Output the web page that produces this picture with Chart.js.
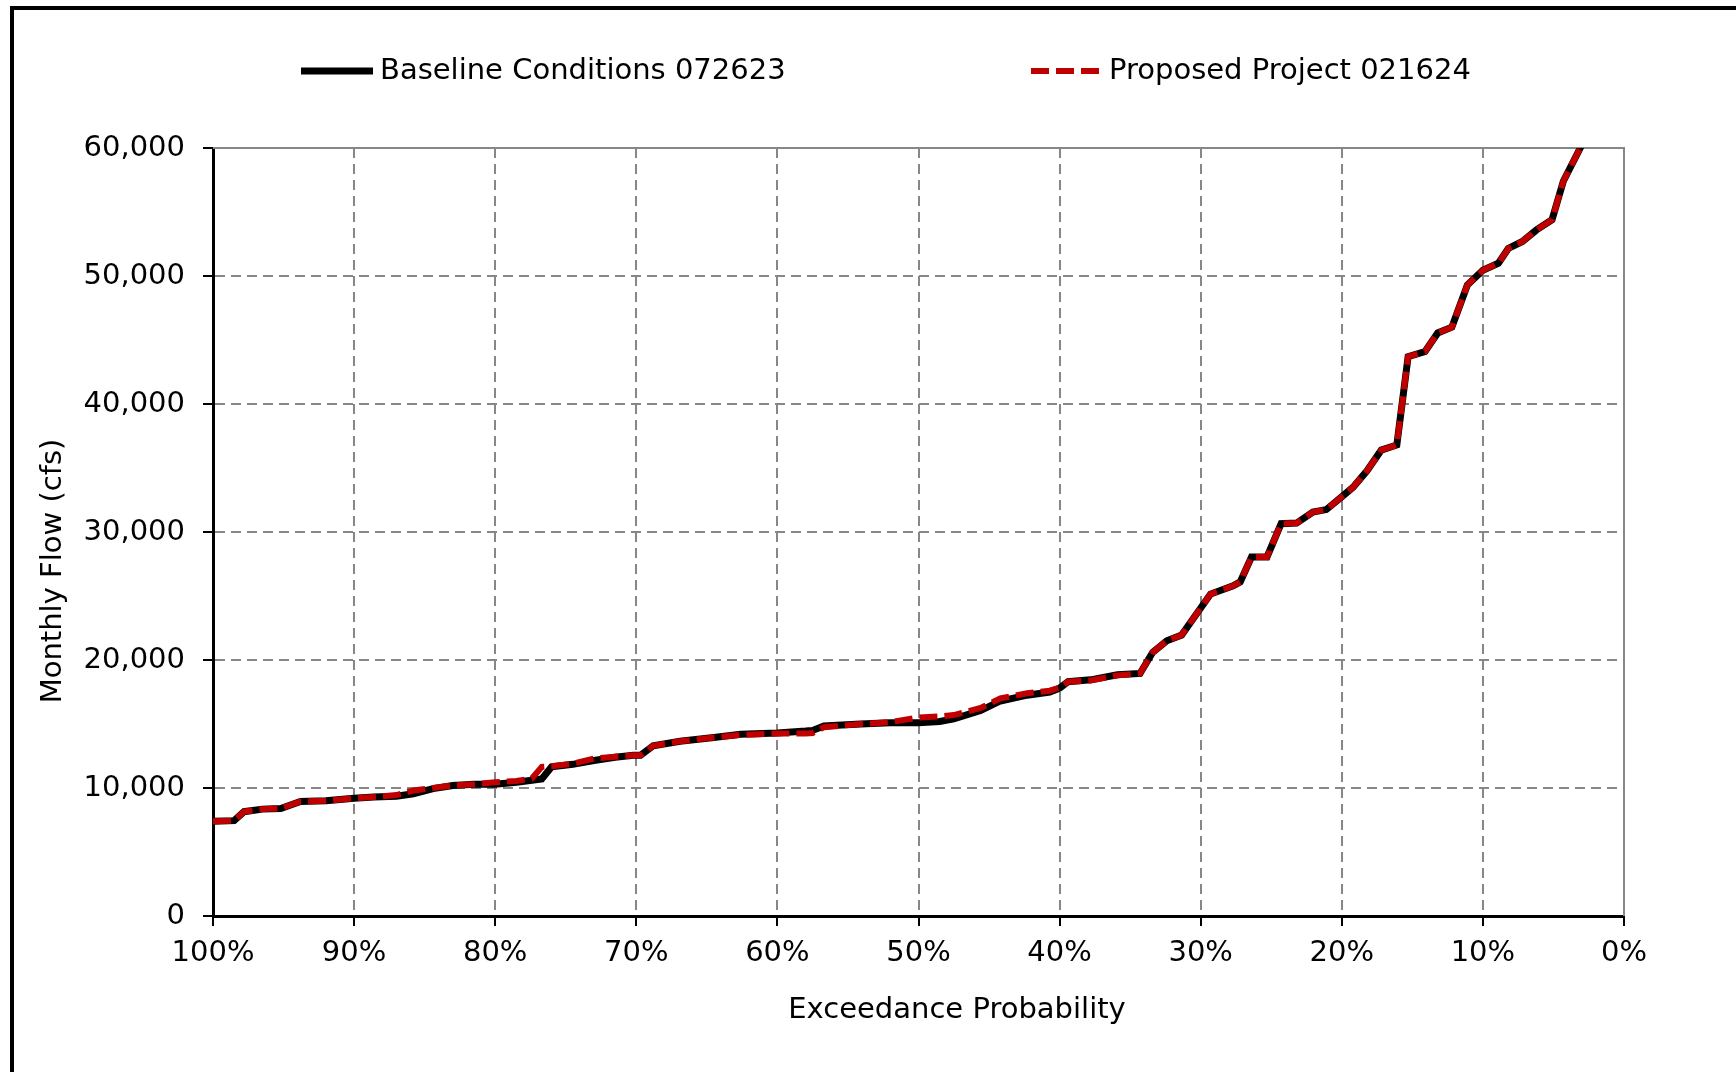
<!DOCTYPE html>
<html>
<head>
<meta charset="utf-8">
<script src="https://cdn.jsdelivr.net/npm/chart.js@4.4.1/dist/chart.umd.min.js"></script>
<style>
  html, body { margin: 0; padding: 0; background: #fff; }
  #wrap { position: relative; width: 1736px; height: 1072px; overflow: hidden; }
  #frame { position: absolute; left: 10px; top: 6px; width: 1800px; height: 1200px;
           border-top: 4px solid #000; border-left: 4px solid #000; pointer-events: none; }
</style>
</head>
<body>
<div id="wrap">
  <canvas id="myChart" width="1736" height="1072"></canvas>
  <div id="frame"></div>
</div>
<script>
// exceedance probability (%) shared by both series
const exceedance = [100, 98.5, 97.8, 96.5, 95.2, 93.8, 92.0, 90.0, 88.6, 87.0,
  85.8, 84.4, 83.0, 81.5, 80.0, 78.5, 77.4, 76.7, 76.0, 74.5,
  73.0, 71.5, 70.2, 69.7, 68.8, 66.9, 64.5, 62.6, 60.0, 58.0,
  57.5, 56.7, 54.1, 52.0, 50.0, 48.5, 47.5, 45.6, 44.2, 42.3,
  40.7, 40.0, 39.4, 37.8, 35.9, 34.3, 33.4, 32.4, 31.35, 30.3,
  29.3, 27.7, 27.2, 26.4, 25.3, 24.3, 23.2, 22.05, 21.1, 20.0,
  19.2, 18.2, 17.2, 16.1, 15.3, 14.1, 13.2, 12.2, 11.1, 10.0,
  8.9, 8.2, 7.2, 6.2, 5.1, 4.3, 3.1, 2.0];

// monthly flow (cfs)
const baselineFlow = [7400, 7450, 8150, 8350, 8400, 8950, 9000, 9200, 9300, 9350,
  9550, 9950, 10200, 10300, 10300, 10450, 10600, 10700, 11650, 11850,
  12150, 12400, 12550, 12550, 13300, 13650, 13950, 14200, 14300, 14450,
  14500, 14850, 15000, 15100, 15100, 15200, 15400, 16050, 16800, 17250,
  17500, 17800, 18300, 18450, 18850, 18950, 20600, 21500, 21950, 23600,
  25150, 25800, 26100, 28050, 28050, 30650, 30700, 31550, 31750, 32750,
  33500, 34800, 36400, 36800, 43700, 44100, 45550, 46000, 49300, 50450,
  51000, 52150, 52700, 53600, 54400, 57400, 60000, 62500];

const proposedFlow = [7400, 7450, 8150, 8350, 8400, 8950, 9000, 9200, 9300, 9450,
  9800, 10000, 10200, 10300, 10450, 10550, 10750, 11650, 11700, 11900,
  12300, 12450, 12550, 12550, 13300, 13650, 13950, 14150, 14250, 14250,
  14300, 14750, 15000, 15150, 15500, 15600, 15700, 16250, 17000, 17400,
  17600, 17850, 18300, 18400, 18800, 18950, 20600, 21500, 21950, 23600,
  25150, 25800, 26100, 28050, 28050, 30650, 30700, 31550, 31750, 32750,
  33500, 34800, 36400, 36800, 43700, 44100, 45550, 46000, 49300, 50450,
  51000, 52150, 52700, 53600, 54400, 57400, 60000, 62500];

const xTicks = [0, 10, 20, 30, 40, 50, 60, 70, 80, 90, 100];
const yTicks = [0, 10000, 20000, 30000, 40000, 50000, 60000];

const seriesNames = ['Baseline Conditions 072623', 'Proposed Project 021624'];
const xTitle = 'Exceedance Probability';
const yTitle = 'Monthly Flow (cfs)';

const FONT = '"DejaVu Sans", Verdana, sans-serif';
const RED = '#C00000';
const GRID = '#878787';

const toPoints = (ys) => exceedance.map((x, i) => ({ x: x, y: ys[i] }));

// legend, axis titles, top/right border
const chartText = {
  id: 'chartText',
  beforeDatasetsDraw(chart) {
    const { ctx, chartArea: a } = chart;
    ctx.save();
    ctx.strokeStyle = GRID;
    ctx.lineWidth = 2;
    ctx.beginPath();
    ctx.moveTo(a.left, a.top);
    ctx.lineTo(a.right, a.top);
    ctx.lineTo(a.right, a.bottom);
    ctx.stroke();
    ctx.restore();
  },
  afterDraw(chart) {
    const ctx = chart.ctx;
    ctx.save();
    ctx.font = '29px ' + FONT;
    ctx.fillStyle = '#000';
    ctx.textBaseline = 'middle';
    ctx.textAlign = 'left';

    // legend
    const ly = 71;
    ctx.lineWidth = 7;
    ctx.strokeStyle = '#000';
    ctx.beginPath();
    ctx.moveTo(301, ly); ctx.lineTo(373, ly);
    ctx.stroke();
    ctx.fillText(seriesNames[0], 380, ly);

    ctx.strokeStyle = RED;
    ctx.lineWidth = 6;
    ctx.setLineDash([18, 7]);
    ctx.beginPath();
    ctx.moveTo(1031, ly); ctx.lineTo(1102, ly);
    ctx.stroke();
    ctx.setLineDash([]);
    ctx.fillText(seriesNames[1], 1109, ly);

    // axis titles
    ctx.textAlign = 'center';
    ctx.fillText(xTitle, 957, 1010);
    ctx.translate(53, 571);
    ctx.rotate(-Math.PI / 2);
    ctx.fillText(yTitle, 0, 0);
    ctx.restore();
  }
};

const edgeClear = (lo, hi) => (c) =>
  (c.tick && (c.tick.value === lo || c.tick.value === hi)) ? 'rgba(0,0,0,0)' : GRID;

const ctx = document.getElementById('myChart');
new Chart(ctx, {
  type: 'line',
  data: {
    datasets: [{
      label: seriesNames[1],
      data: toPoints(proposedFlow),
      borderColor: RED,
      borderWidth: 6,
      borderDash: [18, 7],
      pointRadius: 0,
      tension: 0,
      clip: 0,
      order: 0
    }, {
      label: seriesNames[0],
      data: toPoints(baselineFlow),
      borderColor: '#000',
      borderWidth: 7,
      pointRadius: 0,
      tension: 0,
      clip: 0,
      order: 1
    }]
  },
  options: {
    responsive: false,
    animation: false,
    events: [],
    layout: { padding: { top: 148, right: 112, left: 0, bottom: 0 } },
    plugins: {
      legend: { display: false },
      tooltip: { enabled: false }
    },
    scales: {
      x: {
        type: 'linear',
        reverse: true,
        min: 0,
        max: 100,
        afterBuildTicks: (s) => { s.ticks = xTicks.map(v => ({ value: v })); },
        afterFit: (s) => { s.height = 156; },
        border: { color: '#000', width: 3, dash: [10, 6] },
        grid: {
          color: edgeClear(0, 100),
          lineWidth: 2,
          tickColor: '#000',
          tickLength: 10,
          tickWidth: 2,
          tickBorderDash: []
        },
        ticks: {
          color: '#000',
          padding: 10,
          maxRotation: 0,
          font: { family: FONT, size: 29 },
          callback: (v) => v + '%'
        }
      },
      y: {
        min: 0,
        max: 60000,
        afterBuildTicks: (s) => { s.ticks = yTicks.map(v => ({ value: v })); },
        afterFit: (s) => { s.width = 213; },
        border: { color: '#000', width: 3, dash: [10, 6] },
        grid: {
          color: edgeClear(0, 60000),
          lineWidth: 2,
          tickColor: '#000',
          tickLength: 10,
          tickWidth: 2,
          tickBorderDash: []
        },
        ticks: {
          color: '#000',
          padding: 18,
          font: { family: FONT, size: 29 },
          callback: (v) => v.toLocaleString('en-US')
        }
      }
    }
  },
  plugins: [chartText]
});
</script>
</body>
</html>
